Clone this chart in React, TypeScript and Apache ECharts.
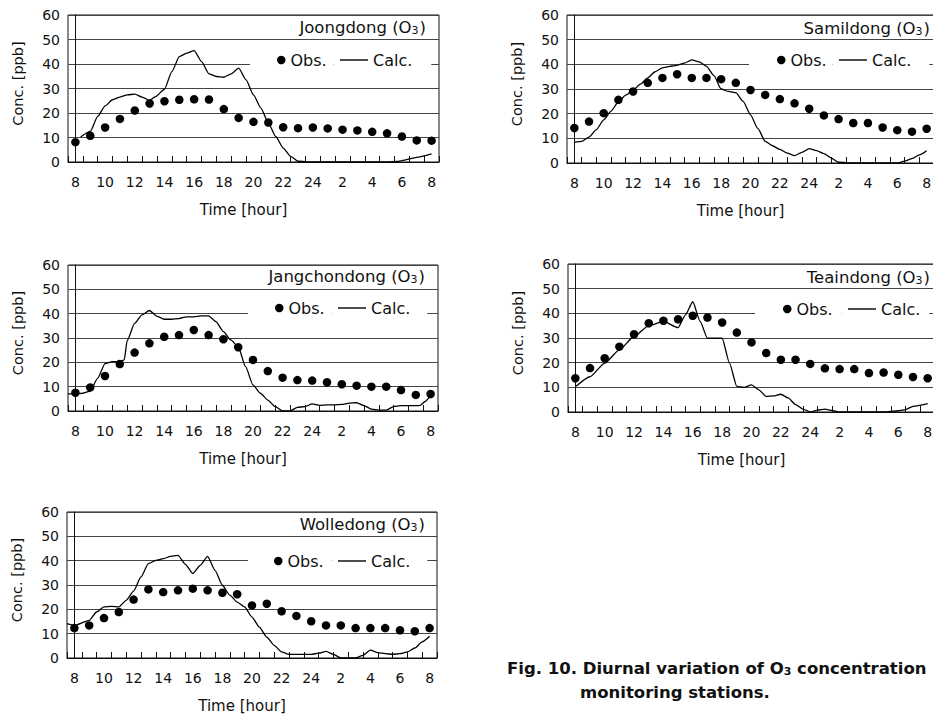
import React, { useEffect, useRef } from "react";
import * as echarts from "echarts";

// ---------- data ----------
const hourLabels = ["8","9","10","11","12","13","14","15","16","17","18","19","20","21","22","23","24","1","2","3","4","5","6","7","8"];
const stationNames = ["Joongdong", "Samildong", "Jangchondong", "Teaindong", "Wolledong"];

// observed hourly O3 (ppb), 08h .. 08h next day
const joongdongObs = [8.1, 10.7, 14.1, 17.6, 21, 23.9, 24.8, 25.4, 25.6, 25.5, 21.6, 18, 16.4, 16.1, 14.2, 13.8, 14.1, 13.7, 13.2, 12.9, 12.3, 11.7, 10.4, 8.8, 8.7];
const samildongObs = [14.2, 16.8, 20.2, 25.6, 29, 32.5, 34.5, 36, 34.5, 34.5, 34, 32.5, 29.6, 27.6, 25.9, 24.2, 22, 19.3, 17.8, 16.2, 16.2, 14.4, 13.3, 12.7, 13.9];
const jangchondongObs = [7.5, 9.7, 14.4, 19.3, 24, 27.8, 30.5, 31.2, 33.3, 31.2, 29.5, 26.2, 21, 16.4, 13.7, 12.7, 12.5, 11.8, 11, 10.4, 10, 10, 8.6, 6.6, 7];
const teaindongObs = [13.7, 17.8, 21.8, 26.5, 31.5, 36, 37, 37.6, 39, 38.3, 36.3, 32.2, 28.2, 23.9, 21.2, 21.2, 19.5, 17.7, 17.4, 17.4, 15.8, 16, 15.1, 14.2, 13.7];
const wolledongObs = [12.3, 13.4, 16.4, 18.9, 24, 28.2, 27.1, 27.8, 28.5, 27.8, 26.8, 26.2, 21.6, 22.3, 19.2, 17.3, 15.1, 13.4, 13.4, 12.3, 12.3, 12.3, 11.4, 11, 12.3];

// calculated O3: [hours after 08h, ppb]
const joongdongCalc = [[0.35,10.2],[1,12.5],[1.5,18.6],[2,22.9],[2.5,25.4],[3,26.5],[3.5,27.4],[4,27.7],[4.5,26.5],[5,25.1],[5.4,26.7],[6,29.7],[6.5,36.9],[7,43],[7.5,44.4],[8,45.5],[8.5,41],[9,36],[9.5,34.9],[10,34.6],[10.5,36],[11,38.3],[11.5,33.5],[12,27.4],[12.5,22],[13,15.9],[13.5,10.4],[14,5.7],[14.5,2.3],[15,0.3],[16,0],[17,0],[18,0],[19,0],[20,0],[21,0],[21.7,0.2],[22,0.6],[23,1.9],[24,3.3]];
const samildongCalc = [[0,8.5],[0.5,8.8],[1,10.5],[1.5,13.5],[2,17.5],[2.5,21],[3,24.8],[3.5,27.5],[4,29.5],[4.5,32],[5,34.5],[5.5,37],[6,38.6],[6.5,39.2],[7,39.6],[7.5,40.5],[8,41.8],[8.5,41],[9,39.2],[9.5,35.5],[10,30],[10.5,29],[11,28.5],[11.5,25],[12,19.5],[12.5,14],[13,8.8],[13.5,7],[14,5.5],[14.5,4],[15,3],[15.5,4.3],[16,5.8],[16.5,5],[17,3.8],[17.5,2],[18,0.3],[19,0],[20,0],[21,0],[22,0],[22.5,0.8],[23,1.8],[23.5,3.3],[24,5]];
const jangchondongCalc = [[-0.5,7],[0,7],[0.5,7.3],[1,8.2],[1.5,13.4],[2,19.5],[2.5,20.3],[3,20.3],[3.3,21],[3.5,29],[4,36],[4.5,39.5],[5,41.3],[5.5,39],[6,37.7],[6.5,37.7],[7,38],[7.5,38.7],[8,38.7],[8.5,39.1],[9,39.1],[9.5,36.7],[10,32.6],[10.5,29.2],[11,26.4],[11.5,18.2],[12,10.7],[12.5,7.3],[13,4.5],[13.5,1.8],[14,0],[14.5,0],[15,1.5],[15.5,1.8],[16,2.9],[16.5,2.3],[17,2.5],[17.5,2.5],[18,2.7],[18.5,3.2],[19,3.4],[19.5,2.2],[20,0.8],[20.5,0.4],[21,0.4],[21.5,1.8],[22,2.2],[23,2.2],[23.3,2.3],[23.6,3.8],[24,6.3]];
const teaindongCalc = [[0.05,10.4],[1,14.3],[2,19.8],[3,25.2],[4,30.6],[5,35],[6,36.7],[7,34.2],[7.5,39.4],[8,44.7],[8.5,36.7],[9,29.9],[9.5,29.9],[10,29.9],[10.5,19.8],[11,10.4],[11.5,10],[12,11],[12.5,9],[13,6.3],[13.5,6.5],[14,7.2],[14.5,5.7],[15,3],[15.5,1.2],[16,0],[16.5,0.8],[17,1.2],[17.5,0.6],[18,0],[19,0],[20,0],[21,0],[22,0.5],[22.5,1],[23,2.3],[24,3.4]];
const wolledongCalc = [[-0.5,14.1],[0,13.4],[1,15.5],[1.5,18.9],[2,21],[2.5,21.2],[3,21],[3.5,23.7],[4,27.5],[4.5,33.3],[5,38.8],[5.5,40.1],[6,40.8],[6.5,41.8],[7,42.2],[7.5,38.5],[8,34.7],[8.5,38.1],[9,41.8],[9.5,36],[10,29.9],[10.5,25.8],[11,23],[11.5,21],[12,16.8],[12.5,12.7],[13,8.6],[13.5,5.2],[14,2.5],[14.5,1.5],[15,1.5],[16,1.5],[16.5,2],[17,2.7],[17.5,1.5],[18,0],[19,0],[19.5,1.1],[20,3.2],[20.5,2.2],[21,1.8],[21.5,1.5],[22,1.8],[22.5,2.5],[23,4.1],[23.5,6.6],[24,8.9]];

const obsSeries = [joongdongObs, samildongObs, jangchondongObs, teaindongObs, wolledongObs];
const calcSeries = [joongdongCalc, samildongCalc, jangchondongCalc, teaindongCalc, wolledongCalc];

// ---------- layout ----------
const CHART_W = 945;
const FONT = '"DejaVu Sans", "Liberation Sans", sans-serif';
const gridBoxes = [
  { left: 68, top: 15, width: 371, height: 147 },
  { left: 567, top: 15, width: 367, height: 148 },
  { left: 68, top: 265, width: 370, height: 146 },
  { left: 568, top: 264, width: 367, height: 148 },
  { left: 67, top: 512, width: 370, height: 146 },
];
const titleRightEdge = [426, 930, 425, 930, 425];
const titleMidY = [28, 29, 277, 278, 525];
// legend: dot centre x, mid y, line start x, white box start, white box end
const legendDotX = [281, 781, 279, 787, 278];
const legendMidY = [60, 60, 308, 309, 561];
const legendLineX = [340, 839, 338, 848, 338];
const legendBoxStart = [250, 749, 248, 755, 248];
const legendBoxEnd = [432, 930, 428, 930, 428];

function buildOption() {
  const grid: any[] = [];
  const xAxis: any[] = [];
  const yAxis: any[] = [];
  const series: any[] = [];
  const title: any[] = [];
  const legend: any[] = [];

  stationNames.forEach((name, i) => {
    const g = gridBoxes[i];
    grid.push({
      ...g,
      show: true,
      borderColor: "#111",
      borderWidth: 1,
      backgroundColor: "transparent",
      containLabel: false,
      outerBoundsMode: "none",
    });
    xAxis.push({
      gridIndex: i,
      type: "category",
      data: hourLabels,
      boundaryGap: true,
      axisLine: { show: true, lineStyle: { color: "#111", width: 1 } },
      axisTick: { show: true, inside: true, length: 6, interval: 0, alignWithLabel: false, lineStyle: { color: "#111" } },
      axisLabel: { interval: 1, fontSize: 14, color: "#111", margin: 13, fontFamily: FONT },
      splitLine: { show: false },
      name: "Time [hour]",
      nameLocation: "middle",
      nameGap: 40,
      nameTextStyle: { fontSize: 15, color: "#111", fontFamily: FONT, padding: [0, 20, 0, 0] },
    });
    xAxis.push({ gridIndex: i, type: "value", min: -0.5, max: 24.5, show: false });
    yAxis.push({
      gridIndex: i,
      type: "value",
      min: 0,
      max: 60,
      interval: 10,
      axisLine: { show: true, lineStyle: { color: "#111" } },
      axisTick: { show: false },
      axisLabel: { fontSize: 14, color: "#111", margin: 8, fontFamily: FONT },
      splitLine: { show: true, lineStyle: { color: "#444", width: 1 } },
      name: "Conc. [ppb]",
      nameLocation: "middle",
      nameRotate: 90,
      nameGap: 43,
      nameTextStyle: { fontSize: 14.5, color: "#111", fontFamily: FONT, padding: [0, 0, 0, 10] },
    });
    series.push({
      name: "Obs.",
      type: "scatter",
      xAxisIndex: 2 * i,
      yAxisIndex: i,
      data: obsSeries[i],
      symbol: "circle",
      symbolSize: 8.5,
      itemStyle: { color: "#000", opacity: 1 },
      z: 3,
    });
    series.push({
      name: "Calc.",
      type: "line",
      xAxisIndex: 2 * i + 1,
      yAxisIndex: i,
      data: calcSeries[i],
      symbol: "none",
      showSymbol: false,
      smooth: 0.2,
      smoothMonotone: "x",
      lineStyle: { color: "#000", width: 1.3 },
      itemStyle: { color: "#000" },
      z: 2,
    });
    title.push({
      text: name + " (O{s|3})",
      right: CHART_W - titleRightEdge[i],
      top: titleMidY[i] - 9,
      padding: 0,
      textStyle: {
        fontSize: 16.5,
        fontWeight: "normal",
        color: "#111",
        fontFamily: FONT,
        rich: { s: { fontSize: 11, color: "#111", fontFamily: FONT, verticalAlign: "bottom", padding: [0, 1, 0, 0] } },
      },
    });
    const obsIconLeft = legendDotX[i] - 4;
    const calcLeft = legendLineX[i] - 6;
    const obsPadL = obsIconLeft - legendBoxStart[i];
    const obsTextEnd = obsIconLeft + 8 + 5 + 37;
    const obsPadR = Math.max(0, calcLeft - obsTextEnd);
    const calcTextEnd = legendLineX[i] + 28 + 5 + 40;
    const calcPadR = Math.max(0, legendBoxEnd[i] - calcTextEnd);
    legend.push({
      data: [{ name: "Obs.", icon: "circle", itemStyle: { color: "#000", opacity: 1 } }],
      left: legendBoxStart[i],
      top: legendMidY[i] - 8 - 4,
      padding: [4, obsPadR, 4, obsPadL],
      itemWidth: 8.5,
      itemHeight: 8.5,
      backgroundColor: "#fff",
      selectedMode: false,
      textStyle: { fontSize: 16, color: "#111", fontFamily: FONT },
    });
    legend.push({
      data: [{ name: "Calc.", icon: "rect", itemStyle: { color: "#000", borderWidth: 0 } }],
      left: calcLeft,
      top: legendMidY[i] - 8 - 4,
      padding: [4, calcPadR, 4, 6],
      itemWidth: 28,
      itemHeight: 1.4,
      backgroundColor: "#fff",
      selectedMode: false,
      textStyle: { fontSize: 16, color: "#111", fontFamily: FONT },
    });
  });

  title.push({
    text: "Fig. 10. Diurnal variation of O{s|3} concentration",
    left: 507,
    top: 660,
    padding: 0,
    textStyle: {
      fontSize: 16.5,
      fontWeight: "bold",
      color: "#111",
      fontFamily: FONT,
      rich: { s: { fontSize: 11, fontWeight: "bold", color: "#111", fontFamily: FONT, verticalAlign: "bottom" } },
    },
  });
  title.push({
    text: "monitoring stations.",
    left: 580,
    top: 684,
    padding: 0,
    textStyle: { fontSize: 16.5, fontWeight: "bold", color: "#111", fontFamily: FONT },
  });

  return {
    animation: false,
    backgroundColor: "#fff",
    textStyle: { fontFamily: FONT },
    title,
    legend,
    grid,
    xAxis,
    yAxis,
    series,
  };
}

export default function App() {
  const ref = useRef<HTMLDivElement>(null);
  useEffect(() => {
    if (!ref.current) return;
    const chart = echarts.init(ref.current, null, { renderer: "svg" });
    chart.setOption(buildOption());
    return () => chart.dispose();
  }, []);
  return (
    <div style={{ position: "fixed", left: 0, top: 0, width: 933, height: 717, overflow: "hidden", background: "#fff" }}>
      <div ref={ref} style={{ width: CHART_W, height: 717 }} />
    </div>
  );
}
